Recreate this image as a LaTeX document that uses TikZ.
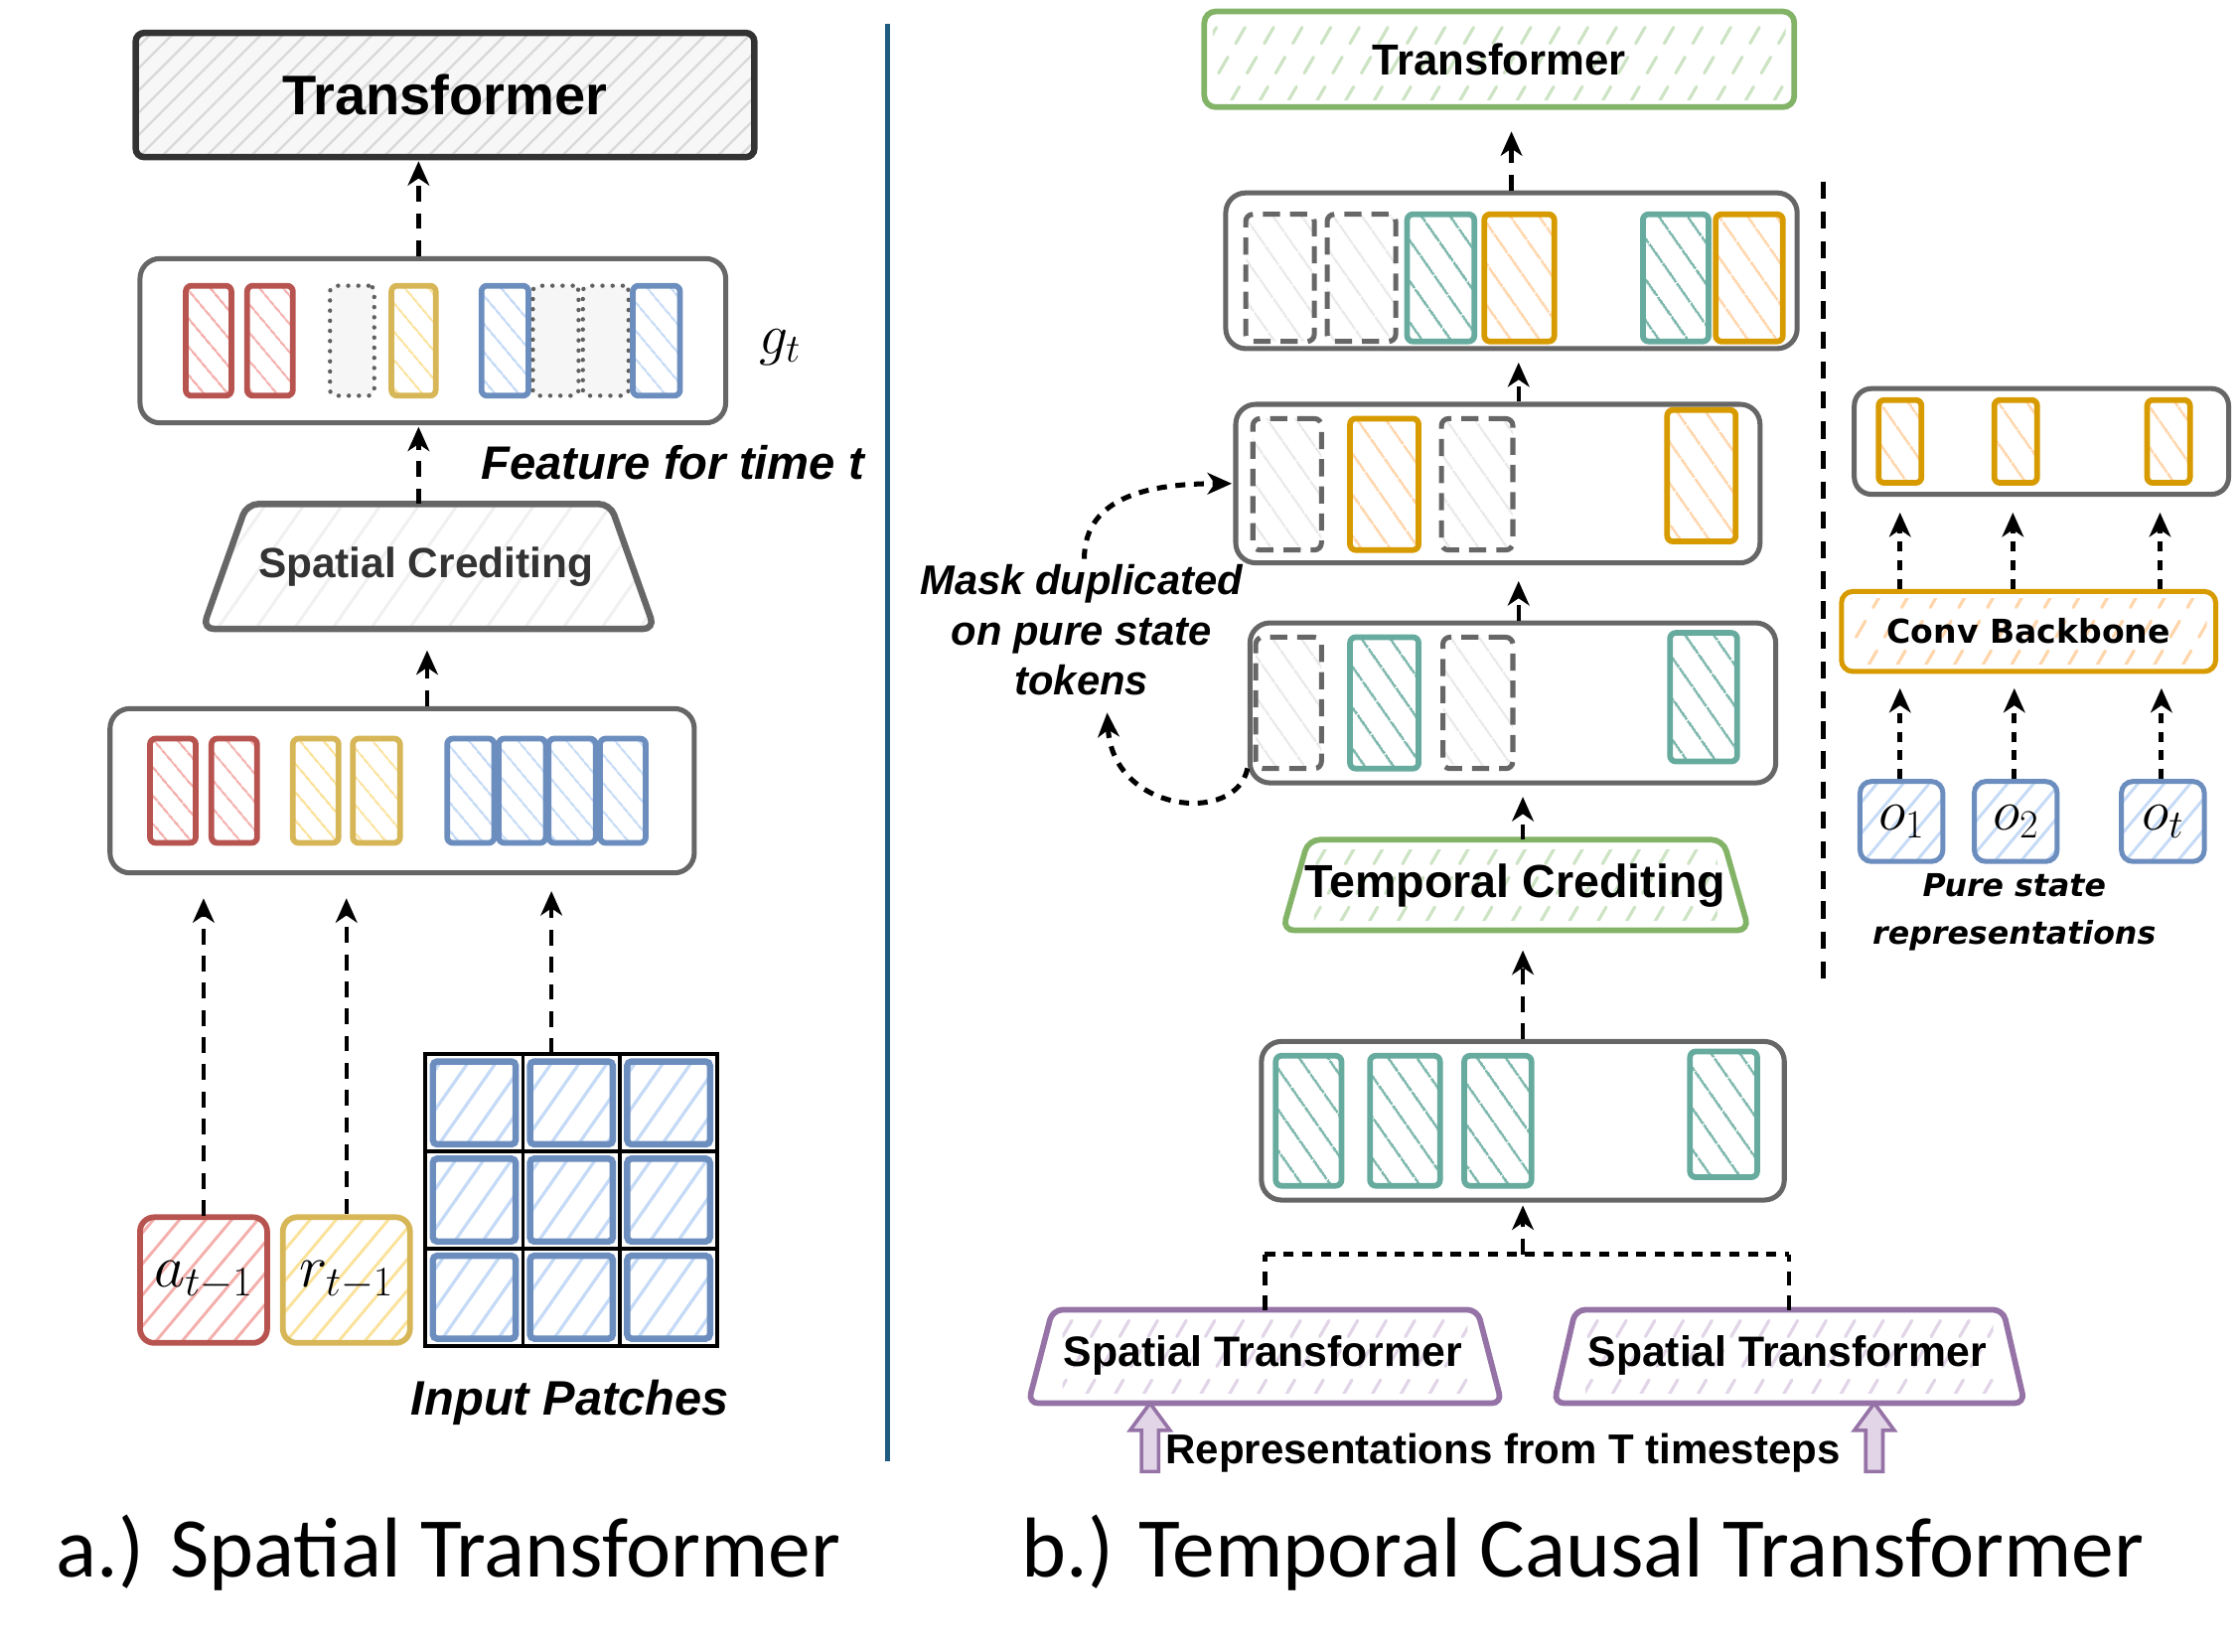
\RequirePackage{fix-cm}
\documentclass[tikz,border=0pt]{standalone}
\usepackage{fontspec}
\setmainfont{Liberation Sans}
\newfontfamily\capfont{Carlito}
\newfontfamily\dejavu{DejaVu Sans}
\usetikzlibrary{arrows.meta,calc,patterns.meta}
\definecolor{cred}{HTML}{B85450}
\definecolor{cpink}{HTML}{F4AFAC}
\definecolor{cyel}{HTML}{D6B656}
\definecolor{cyellt}{HTML}{FBE29A}
\definecolor{cblue}{HTML}{6C8EBF}
\definecolor{cbluelt}{HTML}{C4DAF6}
\definecolor{cgreen}{HTML}{82B366}
\definecolor{cgreenlt}{HTML}{CDE4C4}
\definecolor{corange}{HTML}{D79B00}
\definecolor{corangelt}{HTML}{FFD6AC}
\definecolor{cpurple}{HTML}{9673A6}
\definecolor{cpurplelt}{HTML}{E1D5E7}
\definecolor{cteal}{HTML}{67AB9F}
\definecolor{cgray}{HTML}{666666}
\definecolor{cdark}{HTML}{333333}
\definecolor{cdiv}{HTML}{1F5C80}
\newcommand{\strokehatch}[3]{%
  \begin{scope}
    \clip ($(#1.south west)+(#3,-7)$) rectangle ($(#1.north east)+(-#3,7)$);
    \foreach \i in {-4,...,24}{
      \draw[#2, line width=2.2pt, line cap=round, dash pattern=on 13pt off 11pt]
        ($(#1.south west)+(\i*20,-5)$) -- ++(45,-78);
    }
  \end{scope}}
\begin{document}
\begin{tikzpicture}[x=1pt,y=-1pt,
  sz/.style 2 args={minimum width=#1pt, minimum height=#2pt, inner sep=0pt},
  cont/.style={draw=cgray, line width=3.5pt, rounded corners=14pt, fill=white},
  tb/.style={line width=4pt, rounded corners=4pt, preaction={fill=white}},
  tred/.style={tb, draw=cred, pattern={Lines[angle=-50,distance=13pt,line width=1.6pt]}, pattern color=cpink},
  tyel/.style={tb, draw=cyel, pattern={Lines[angle=-50,distance=13pt,line width=1.6pt]}, pattern color=cyellt},
  tblue/.style={tb, draw=cblue, pattern={Lines[angle=-50,distance=13pt,line width=1.6pt]}, pattern color=cbluelt},
  tdot/.style={line width=3pt, draw=gray!75!black, dash pattern=on 0.1pt off 7pt, line cap=round, rounded corners=4pt, fill=gray!7},
  tteal/.style={tb, draw=cteal, pattern={Lines[angle=-55,distance=17pt,line width=2pt]}, pattern color=cteal!85},
  torange/.style={tb, draw=corange, pattern={Lines[angle=-55,distance=17pt,line width=2pt]}, pattern color=corangelt},
  tdash/.style={line width=3.5pt, draw=cgray, dash pattern=on 12pt off 7pt, rounded corners=5pt, preaction={fill=white}, pattern={Lines[angle=-55,distance=17pt,line width=1.6pt]}, pattern color=gray!18},
  redbox/.style={line width=4pt, rounded corners=10pt, draw=cred, preaction={fill=white}, pattern={Lines[angle=50,distance=14pt,line width=2pt]}, pattern color=cpink},
  yelbox/.style={line width=4pt, rounded corners=10pt, draw=cyel, preaction={fill=white}, pattern={Lines[angle=50,distance=14pt,line width=2pt]}, pattern color=cyellt},
  cell/.style={line width=4.5pt, rounded corners=3pt, draw=cblue, preaction={fill=white}, pattern={Lines[angle=55,distance=16pt,line width=2.2pt]}, pattern color=cbluelt},
  obox/.style={line width=3.5pt, rounded corners=8pt, draw=cblue, preaction={fill=white}, pattern={Lines[angle=50,distance=14pt,line width=2pt]}, pattern color=cbluelt},
  arr/.style={line width=3pt, dash pattern=on 11pt off 8pt, -{Stealth[length=17pt,width=15pt,inset=5pt]}},
  sarr/.style={line width=3.5pt, dash pattern=on 7pt off 6pt, -{Stealth[length=17pt,width=15pt,inset=5pt]}},
  fat/.style={draw=cpurple, line width=2.5pt, fill=cpurplelt, line join=miter},
]
\useasboundingbox (0,0) rectangle (1568,1156);

% ================= LEFT PANEL =================
\node[draw=cdark, line width=4.5pt, rounded corners=6pt, preaction={fill=gray!6},
      pattern={Lines[angle=45,distance=11pt,line width=1.6pt]}, pattern color=gray!30,
      sz={433}{87}] (tr1) at (311.5,66.5) {\fontsize{39pt}{44pt}\selectfont\bfseries Transformer};

\node[cont, sz={410}{115}] (gt) at (303,238.5) {};
\node[tred,  sz={32}{77}] (g1) at (146,238.5) {};
\node[tred,  sz={32}{77}] (g2) at (189,238.5) {};
\node[tdot,  sz={31}{77}] (g3) at (246.5,238.5) {};
\node[tyel,  sz={31}{77}] (g4) at (289.5,238.5) {};
\node[tblue, sz={33}{77}] (g5) at (353.5,238.5) {};
\node[tdot,  sz={32}{77}] (g6) at (389,238.5) {};
\node[tdot,  sz={32}{77}] (g7) at (424,238.5) {};
\node[tblue, sz={33}{77}] (g8) at (459.5,238.5) {};
\node[font=\fontsize{40pt}{48pt}\selectfont] (gtlab) at (546,243) {$g_t$};
\node (feat) at (471,324) {\fontsize{32.8pt}{38pt}\selectfont\bfseries\itshape Feature for time t};

\node[sz={316}{87}] (sc) at (300,396.5) {};
\draw[draw=cgray, line width=4.5pt, rounded corners=8pt, preaction={fill=white},
      pattern={Lines[angle=55,distance=22pt,line width=2pt]}, pattern color=gray!12]
  (sc.south west) -- ($(sc.north west)+(31,0)$) -- ($(sc.north east)+(-31,0)$) -- (sc.south east) -- cycle;
\node (sctext) at (298,397) {\fontsize{29.5pt}{34pt}\selectfont\bfseries\color{cdark}Spatial Crediting};

\node[cont, sz={409}{115}] (b2) at (281.5,553.5) {};
\node[tred,  sz={32}{73}] (h1) at (121,553.5) {};
\node[tred,  sz={32}{73}] (h2) at (164,553.5) {};
\node[tyel,  sz={32}{73}] (h3) at (221,553.5) {};
\node[tyel,  sz={33}{73}] (h4) at (263.5,553.5) {};
\node[tblue, sz={33}{73}] (h5) at (329.5,553.5) {};
\node[tblue, sz={33}{73}] (h6) at (365.5,553.5) {};
\node[tblue, sz={33}{73}] (h7) at (400.5,553.5) {};
\node[tblue, sz={32}{73}] (h8) at (436,553.5) {};

\node[redbox, sz={89}{88}, font=\fontsize{42pt}{50pt}\selectfont] (at) at (142.5,896) {$a_{t-1}$};
\node[yelbox, sz={89}{88}, font=\fontsize{42pt}{50pt}\selectfont] (rt) at (242.5,896) {$r_{t-1}$};

\node[sz={204}{204}] (patch) at (400,840) {};
\draw[line width=2.5pt] (patch.north west) rectangle (patch.south east);
\draw[line width=2.5pt] (patch.north -| 366,0) -- (patch.south -| 366,0);
\draw[line width=2.5pt] (patch.north -| 434,0) -- (patch.south -| 434,0);
\draw[line width=2.5pt] (patch.west |- 0,806) -- (patch.east |- 0,806);
\draw[line width=2.5pt] (patch.west |- 0,874) -- (patch.east |- 0,874);
\node[cell, sz={58}{58}] (p11) at (332,772) {};
\node[cell, sz={58}{58}] (p12) at (400,772) {};
\node[cell, sz={58}{58}] (p13) at (468,772) {};
\node[cell, sz={58}{58}] (p21) at (332,840) {};
\node[cell, sz={58}{58}] (p22) at (400,840) {};
\node[cell, sz={58}{58}] (p23) at (468,840) {};
\node[cell, sz={58}{58}] (p31) at (332,908) {};
\node[cell, sz={58}{58}] (p32) at (400,908) {};
\node[cell, sz={58}{58}] (p33) at (468,908) {};
\node (inp) at (399,982) {\fontsize{33.9pt}{40pt}\selectfont\bfseries\itshape Input Patches};

\draw[arr, shorten >=2pt] (gt.north -| 293,0) -- (tr1.south -| 293,0);
\draw[arr, shorten >=1pt] (sc.north -| 293,0) -- (gt.south -| 293,0);
\draw[arr, shorten >=15pt] (b2.north -| 299,0) -- (sc.south -| 299,0);
\draw[arr, shorten >=16pt] (at.north) -- (b2.south -| at.north);
\draw[arr, shorten >=16pt] (rt.north) -- (b2.south -| rt.north);
\draw[arr, shorten >=11pt] (patch.north -| 386,0) -- (b2.south -| 386,0);

\draw[cdiv, line width=3.5pt] (621,17) -- (621,1023);

% ================= RIGHT PANEL =================
\node[draw=cgreen, line width=4pt, rounded corners=8pt, fill=white, sz={413}{67}] (tr2) at (1049.5,41.5) {};
\strokehatch{tr2}{cgreenlt}{8}
\node (tr2t) at (tr2.center) {\fontsize{30.4pt}{36pt}\selectfont\bfseries Transformer};

\node[cont, sz={400}{109}] (bA) at (1058,189.5) {};
\node[tdash,   sz={48}{89}] (a1) at (896,194.5) {};
\node[tdash,   sz={48}{89}] (a2) at (953,194.5) {};
\node[tteal,   sz={47}{89}] (a3) at (1008.5,194.5) {};
\node[torange, sz={49}{89}] (a4) at (1063.5,194.5) {};
\node[tteal,   sz={46}{89}] (a5) at (1173,194.5) {};
\node[torange, sz={47}{89}] (a6) at (1224.5,194.5) {};

\node[cont, sz={367}{111}] (bB) at (1048.5,338.5) {};
\node[tdash,   sz={48}{92}] (bb1) at (901,339) {};
\node[torange, sz={48}{92}] (bb2) at (969,339) {};
\node[tdash,   sz={50}{92}] (bb3) at (1034,339) {};
\node[torange, sz={48}{92}] (bb4) at (1191,333) {};

\node[cont, sz={368}{112}] (bC) at (1059,492) {};
\node[tdash,   sz={46}{92}] (c1) at (902,492) {};
\node[tteal,   sz={48}{92}] (c2) at (969,492) {};
\node[tdash,   sz={49}{92}] (c3) at (1034.5,492) {};
\node[tteal,   sz={47}{90}] (c4) at (1192.5,488) {};

\node[align=center, inner sep=0pt, font=\fontsize{29pt}{35pt}\selectfont\bfseries\itshape] (mask) at (757,441)
  {Mask duplicated\\on pure state\\tokens};

\node[sz={326}{63}] (tc) at (1061,619.5) {};
\draw[draw=cgreen, line width=4pt, rounded corners=8pt, fill=white]
  (tc.south west) -- ($(tc.north west)+(18,0)$) -- ($(tc.north east)+(-18,0)$) -- (tc.south east) -- cycle;
\strokehatch{tc}{cgreenlt}{22}
\node (tct) at (1060.5,620) {\fontsize{32.4pt}{38pt}\selectfont\bfseries Temporal Crediting};

\node[cont, sz={366}{111}] (bD) at (1066,784.5) {};
\node[tteal, sz={46}{91}] (d1) at (916,784.5) {};
\node[tteal, sz={49}{91}] (d2) at (983.5,784.5) {};
\node[tteal, sz={47}{91}] (d3) at (1048.5,784.5) {};
\node[tteal, sz={47}{88}] (d4) at (1206.5,780) {};

\node[sz={331}{65}] (st1) at (885.5,949.5) {};
\draw[draw=cpurple, line width=4pt, rounded corners=7pt, fill=white]
  (st1.south west) -- ($(st1.north west)+(17,0)$) -- ($(st1.north east)+(-17,0)$) -- (st1.south east) -- cycle;
\strokehatch{st1}{cpurplelt}{24}
\node (st1t) at (884,949) {\fontsize{29.7pt}{35pt}\selectfont\bfseries Spatial Transformer};

\node[sz={329}{65}] (st2) at (1252.5,949.5) {};
\draw[draw=cpurple, line width=4pt, rounded corners=7pt, fill=white]
  (st2.south west) -- ($(st2.north west)+(15,0)$) -- ($(st2.north east)+(-15,0)$) -- (st2.south east) -- cycle;
\strokehatch{st2}{cpurplelt}{22}
\node (st2t) at (1251,949) {\fontsize{29.7pt}{35pt}\selectfont\bfseries Spatial Transformer};

\coordinate (jm) at (1066,878);
\coordinate (fa1) at (805,1030);
\coordinate (fa2) at (1312,1030);
\draw[line width=3pt, dash pattern=on 10pt off 7pt] (st1.north) -- (st1.north |- jm);
\draw[line width=3pt, dash pattern=on 10pt off 7pt] (st2.north) -- (st2.north |- jm);
\draw[line width=3.5pt, dash pattern=on 7pt off 6pt] (st1.north |- jm) -- (st2.north |- jm);

\draw[fat] ($(fa1)+(-6,0)$) -- ($(st1.south -| fa1)+(-6,19)$) -- ($(st1.south -| fa1)+(-14,19)$) -- (st1.south -| fa1)
  -- ($(st1.south -| fa1)+(14,19)$) -- ($(st1.south -| fa1)+(6,19)$) -- ($(fa1)+(6,0)$) -- cycle;
\draw[fat] ($(fa2)+(-6,0)$) -- ($(st2.south -| fa2)+(-6,19)$) -- ($(st2.south -| fa2)+(-14,19)$) -- (st2.south -| fa2)
  -- ($(st2.south -| fa2)+(14,19)$) -- ($(st2.south -| fa2)+(6,19)$) -- ($(fa2)+(6,0)$) -- cycle;
\node (rep) at (1052,1017) {\fontsize{29.2pt}{35pt}\selectfont\bfseries Representations from T timesteps};

\draw[arr, shorten >=15pt] (bA.north -| 1058,0) -- (tr2.south -| 1058,0);
\draw[arr, shorten >=8pt] (bB.north -| 1063,0) -- (bA.south -| 1063,0);
\draw[arr, shorten >=11pt] (bC.north -| 1063,0) -- (bB.south -| 1063,0);
\draw[arr, shorten >=8pt] (tc.north -| 1066,0) -- (bC.south -| 1066,0);
\draw[arr, shorten >=14pt] (bD.north -| 1066,0) -- (tc.south -| 1066,0);
\draw[arr, shorten >=2pt] (jm) -- (bD.south -| jm);

\draw[sarr] ($(bC.south west)+(0,-12)$) .. controls +(-8,40) and +(4,70) .. ($(mask.south)+(18,12)$);
\draw[sarr, shorten >=1pt] ($(mask.north)+(2,-4)$) .. controls +(0,-45) and +(-55,0) .. (bB.west);

% right sub-panel
\draw[line width=3.5pt, dash pattern=on 12pt off 9pt] (1276,127) -- (1276,685);

\node[cont, rounded corners=12pt, sz={262}{74}] (bE) at (1429,309) {};
\node[torange, sz={30}{58}] (e1) at (1330,309) {};
\node[torange, sz={30}{58}] (e2) at (1411,309) {};
\node[torange, sz={30}{58}] (e3) at (1518,309) {};

\node[draw=corange, line width=3.5pt, rounded corners=8pt, fill=white, sz={262}{56}] (conv) at (1420,442) {};
\strokehatch{conv}{corangelt}{8}
\node (convt) at (1420,442) {\dejavu\fontsize{23pt}{28pt}\selectfont\bfseries Conv Backbone};

\node[obox, sz={58}{56}, font=\fontsize{40pt}{48pt}\selectfont] (o1) at (1331,575) {$o_1$};
\node[obox, sz={58}{56}, font=\fontsize{40pt}{48pt}\selectfont] (o2) at (1411,575) {$o_2$};
\node[obox, sz={58}{56}, font=\fontsize{40pt}{48pt}\selectfont] (ot) at (1514,575) {$o_t$};
\node[align=center, inner sep=0pt, font=\dejavu\fontsize{22pt}{33pt}\selectfont\bfseries\itshape] (pure) at (1410,638.5)
  {Pure state\\representations};

\draw[sarr, shorten >=11pt] (conv.north -| 1330,0) -- (bE.south -| 1330,0);
\draw[sarr, shorten >=11pt] (conv.north -| 1409,0) -- (bE.south -| 1409,0);
\draw[sarr, shorten >=11pt] (conv.north -| 1512,0) -- (bE.south -| 1512,0);
\draw[sarr, shorten >=10pt] (o1.north -| 1330,0) -- (conv.south -| 1330,0);
\draw[sarr, shorten >=10pt] (o2.north -| 1410,0) -- (conv.south -| 1410,0);
\draw[sarr, shorten >=10pt] (ot.north -| 1513,0) -- (conv.south -| 1513,0);

% captions
\node (capa) at (314,1087) {\capfont\fontsize{59.5pt}{70pt}\selectfont a.) Spatial Transformer};
\node (capb) at (1108,1087) {\capfont\fontsize{59.5pt}{70pt}\selectfont b.) Temporal Causal Transformer};
\end{tikzpicture}
\end{document}
